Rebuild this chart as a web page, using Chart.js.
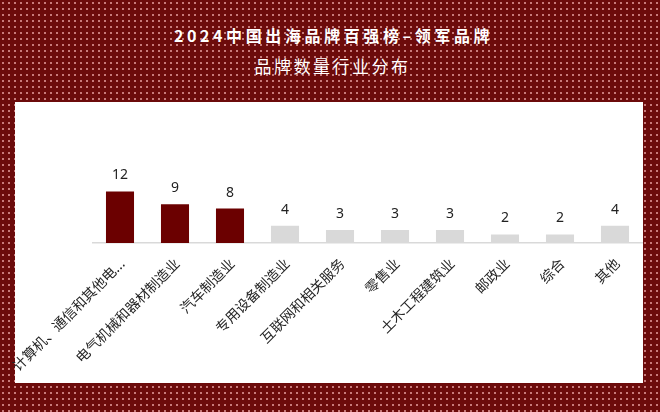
<!DOCTYPE html>
<html>
<head>
<meta charset="utf-8">
<script src="https://cdn.jsdelivr.net/npm/chart.js@4.4.1/dist/chart.umd.min.js"></script>
<style>
html, body { margin: 0; padding: 0; }
body {
    width: 660px; height: 412px; overflow: hidden; position: relative;
    background-color: #6c0b0b;
    background-image: radial-gradient(circle at 3px 3px, rgba(238, 168, 168, 0.9) 0.6px, rgba(238, 168, 168, 0) 1.1px);
    background-size: 6px 6px;
    font-family: "Noto Sans CJK SC", "Noto Sans", sans-serif;
}
#title, #sub {
    position: absolute; left: 0; width: 660px; text-align: center; color: #fff;
}
#title { top: 23px; font-size: 16px; font-weight: bold; letter-spacing: 3.6px; padding-left: 3.6px; line-height: 24px; }
#sub { top: 54px; font-size: 17px; letter-spacing: 2.5px; padding-left: 2.5px; line-height: 24px; }
#panel { position: absolute; left: 15px; top: 102px; width: 628px; height: 281px; background: #fff; }
#chart { position: absolute; left: 0; top: 0; }
</style>
</head>
<body>
<div id="title">2024中国出海品牌百强榜–领军品牌</div>
<div id="sub">品牌数量行业分布</div>
<div id="panel"></div>
<canvas id="chart" width="660" height="412"></canvas>
<script>
const categories = [
    "计算机、通信和其他电子设备制造业",
    "电气机械和器材制造业",
    "汽车制造业",
    "专用设备制造业",
    "互联网和相关服务",
    "零售业",
    "土木工程建筑业",
    "邮政业",
    "综合",
    "其他"
];
const brandCounts = [12, 9, 8, 4, 3, 3, 3, 2, 2, 4];
const topN = 3; // first three bars are highlighted

const barColors = brandCounts.map((v, i) => i < topN ? "#6b0000" : "#d9d9d9");

// value labels above the bars
const valueLabels = {
    id: "valueLabels",
    afterDatasetsDraw(chart) {
        const ctx = chart.ctx;
        const meta = chart.getDatasetMeta(0);
        ctx.save();
        ctx.font = "14px 'Noto Sans', sans-serif";
        ctx.fillStyle = "#222";
        ctx.textAlign = "center";
        ctx.textBaseline = "middle";
        meta.data.forEach((bar, i) => {
            ctx.fillText(brandCounts[i], bar.x, bar.y - 16);
        });
        ctx.restore();
    }
};

new Chart(document.getElementById("chart").getContext("2d"), {
    type: "bar",
    data: {
        labels: categories,
        datasets: [{
            data: brandCounts,
            backgroundColor: barColors,
            categoryPercentage: 1,
            barPercentage: 0.51
        }]
    },
    options: {
        responsive: false,
        animation: false,
        layout: { padding: { left: 92.5, right: 17.5, top: 157, bottom: 0 } },
        plugins: { legend: { display: false }, tooltip: { enabled: false } },
        scales: {
            x: {
                grid: { display: false, drawTicks: false },
                border: { display: true, color: "#d9d9d9", width: 1.5 },
                ticks: {
                    autoSkip: false,
                    maxRotation: 45,
                    minRotation: 45,
                    padding: 12,
                    labelOffset: 2,
                    color: "#262626",
                    font: { size: 14, family: "'Noto Sans CJK SC', sans-serif" },
                    callback: function (value) {
                        const s = this.getLabelForValue(value);
                        return s.length > 10 ? s.slice(0, 10) + "..." : s;
                    }
                },
                afterFit: function (s) {
                    s.height = 169;
                    s.paddingLeft = 0;
                    s.paddingRight = 0;
                }
            },
            y: { display: false, min: 0, max: 20 }
        }
    },
    plugins: [valueLabels]
});
</script>
</body>
</html>
